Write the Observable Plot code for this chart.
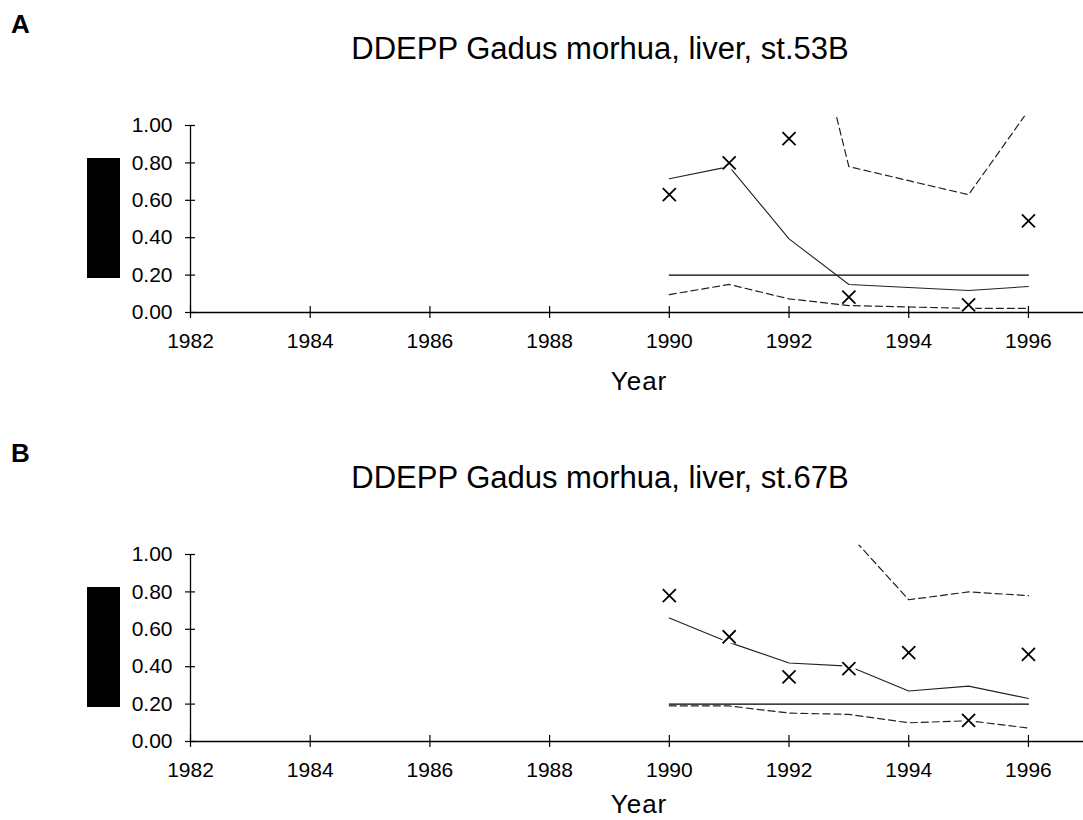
<!DOCTYPE html>
<html>
<head>
<meta charset="utf-8">
<script src="https://cdn.jsdelivr.net/npm/d3@7"></script>
<script src="https://cdn.jsdelivr.net/npm/@observablehq/plot@0.6"></script>
<style>
  html, body { margin: 0; padding: 0; background: #fff; }
  body { width: 1083px; height: 820px; position: relative; overflow: hidden; font-family: "Liberation Sans", Arial, sans-serif; color: #000; }
  .abs { position: absolute; line-height: 1; white-space: nowrap; z-index: 2; }
  .panel-letter { font-size: 26px; font-weight: bold; }
  .title { font-size: 31px; text-align: center; width: 1200px; left: 0; }
  .xlabel { font-size: 26px; line-height: 20px; height: 20px; letter-spacing: 1px; text-align: center; width: 200px; left: 539px; }
  .redact { position: absolute; background: #000; left: 87px; width: 33px; height: 120px; z-index: 3; }
  .chart { position: absolute; left: 0; z-index: 1; }
</style>
</head>
<body>
<script>
// ---------- data ----------
const xTicks = [1982, 1984, 1986, 1988, 1990, 1992, 1994, 1996];
const yTicks = [0, 0.2, 0.4, 0.6, 0.8, 1.0];
const refLevel = 0.20;
const refYears = [1990, 1996];

// Panel A: st.53B
const titleA = "DDEPP Gadus morhua, liver, st.53B";
const yearsA = [1990, 1991, 1992, 1993, 1995, 1996];
const obsA   = [0.63, 0.80, 0.93, 0.082, 0.041, 0.49];
const fitA   = [0.715, 0.78, 0.394, 0.150, 0.118, 0.139];
const lowerA = [0.096, 0.15, 0.073, 0.037, 0.022, 0.022];
const upperYearsA = [1992, 1993, 1995, 1996];
const upperA = [2.07, 0.78, 0.63, 1.08];

// Panel B: st.67B
const titleB = "DDEPP Gadus morhua, liver, st.67B";
const yearsB = [1990, 1991, 1992, 1993, 1994, 1995, 1996];
const obsB   = [0.78, 0.56, 0.346, 0.39, 0.475, 0.113, 0.466];
const fitB   = [0.66, 0.53, 0.42, 0.403, 0.27, 0.296, 0.23];
const lowerB = [0.19, 0.19, 0.152, 0.145, 0.10, 0.111, 0.072];
const upperYearsB = [1993, 1994, 1995, 1996];
const upperB = [1.11, 0.758, 0.80, 0.78];

// ---------- drawing ----------
const zip = (xs, ys) => xs.map((x, i) => ({year: x, v: ys[i]}));

function chart(years, obs, fit, lower, upperYears, upper) {
  const obsData = zip(years, obs);
  const fitData = zip(years, fit);
  const lowData = zip(years, lower);
  const upData = zip(upperYears, upper);
  const refData = refYears.map(y => ({year: y, v: refLevel}));
  return Plot.plot({
    width: 1083,
    height: 260,
    marginLeft: 190,
    marginRight: 0,
    marginTop: 15.65,
    marginBottom: 48,
    style: {fontFamily: "Liberation Sans, Arial, sans-serif", fontSize: "21px", background: "transparent", color: "black", overflow: "visible"},
    x: {domain: [1982, 1996.92]},
    y: {domain: [0, 1.05]},
    marks: [
      // axis lines
      Plot.ruleY([yTicks[0]], {stroke: "black", strokeWidth: 1.3}),
      Plot.ruleX([xTicks[0]], {y1: yTicks[0], y2: yTicks[yTicks.length - 1], stroke: "black", strokeWidth: 1.3}),
      // crossing tick marks
      Plot.axisX({ticks: xTicks, tickSize: 12, dy: -6, fill: "none", label: null, strokeWidth: 1.2}),
      Plot.axisY({ticks: yTicks, tickSize: 10, dx: 5, fill: "none", label: null, strokeWidth: 1.2}),
      // tick labels
      Plot.axisX({ticks: xTicks, tickSize: 0, tickPadding: 21, stroke: "none", label: null, tickFormat: d3.format("d"), fontSize: 21}),
      Plot.axisY({ticks: yTicks, tickSize: 0, tickPadding: 18, stroke: "none", label: null, tickFormat: d3.format(".2f"), fontSize: 21}),
      // reference level
      Plot.line(refData, {x: "year", y: "v", stroke: "black", strokeWidth: 1.4}),
      // smoothed fit
      Plot.line(fitData, {x: "year", y: "v", stroke: "#222", strokeWidth: 1.1, clip: true}),
      // confidence band (dashed)
      Plot.line(lowData, {x: "year", y: "v", stroke: "#222", strokeWidth: 1.2, strokeDasharray: "7,4", clip: true}),
      Plot.line(upData, {x: "year", y: "v", stroke: "#222", strokeWidth: 1.2, strokeDasharray: "7,4", clip: true}),
      // observations: white backing then cross
      Plot.dot(obsData, {x: "year", y: "v", symbol: "square", r: 7.5, fill: "white", stroke: "none"}),
      Plot.dot(obsData, {x: "year", y: "v", symbol: "times", r: 6, stroke: "black", strokeWidth: 1.8})
    ]
  });
}

function addText(cls, text, top, left) {
  const d = document.createElement("div");
  d.className = "abs " + cls;
  d.textContent = text;
  d.style.top = top + "px";
  if (left !== undefined) d.style.left = left + "px";
  document.body.appendChild(d);
}

function panel(letter, title, offset, svg, yearTop) {
  const wrap = document.createElement("div");
  wrap.className = "chart";
  wrap.style.top = (100 + offset) + "px";
  wrap.appendChild(svg);
  document.body.appendChild(wrap);
  addText("panel-letter", letter, 11 + offset, 11);
  addText("title", title, 33 + offset);
  const r = document.createElement("div");
  r.className = "redact";
  r.style.top = (158 + offset) + "px";
  document.body.appendChild(r);
  addText("xlabel", "Year", yearTop);
}

panel("A", titleA, 0, chart(yearsA, obsA, fitA, lowerA, upperYearsA, upperA), 371);
panel("B", titleB, 429, chart(yearsB, obsB, fitB, lowerB, upperYearsB, upperB), 794);
</script>
</body>
</html>
